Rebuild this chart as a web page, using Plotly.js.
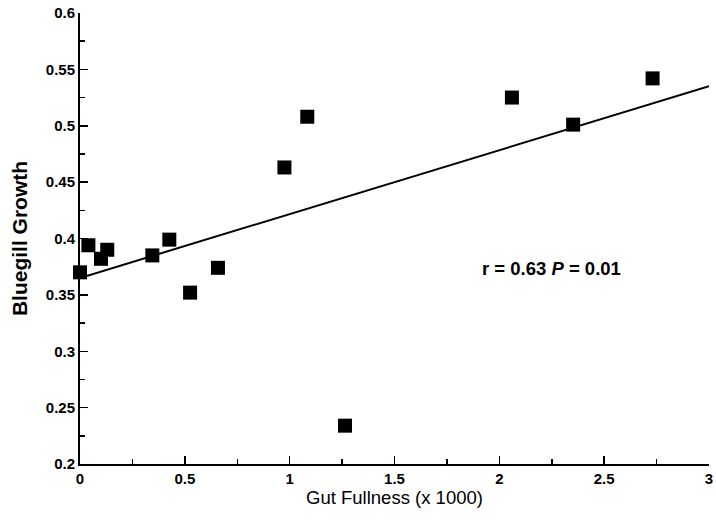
<!DOCTYPE html>
<html>
<head>
<meta charset="utf-8">
<script src="https://cdn.plot.ly/plotly-3.0.1.min.js"></script>
<style>html,body{margin:0;padding:0;background:#fff;}#chart{width:716px;height:523px;}</style>
</head>
<body>
<div id="chart"></div>
<script>
// Data
const gutFullness = [0.00, 0.04, 0.10, 0.13, 0.345, 0.426, 0.525, 0.658, 0.975, 1.084, 1.264, 2.06, 2.352, 2.731];
const bluegillGrowth = [0.370, 0.394, 0.382, 0.390, 0.385, 0.399, 0.352, 0.374, 0.463, 0.508, 0.234, 0.525, 0.501, 0.542];
const fitX = [0, 3];
const fitY = [0.365, 0.535];
const xTicks = [0, 0.5, 1, 1.5, 2, 2.5, 3];
const xTickText = ['0', '0.5', '1', '1.5', '2', '2.5', '3'];
const yTicks = [0.2, 0.25, 0.3, 0.35, 0.4, 0.45, 0.5, 0.55, 0.6];
const yTickText = ['0.2', '0.25', '0.3', '0.35', '0.4', '0.45', '0.5', '0.55', '0.6'];
const statText = 'r = 0.63 <i>P</i> = 0.01';

const FONT = 'Liberation Sans, Arial, Helvetica, sans-serif';

const traces = [
  {
    x: fitX, y: fitY, type: 'scatter', mode: 'lines',
    line: {color: '#000', width: 2}, hoverinfo: 'skip', showlegend: false
  },
  {
    x: gutFullness, y: bluegillGrowth, type: 'scatter', mode: 'markers',
    cliponaxis: false,
    marker: {symbol: 'square', size: 14, color: '#000'}, showlegend: false
  }
];

const layout = {
  width: 716, height: 523,
  margin: {l: 80, r: 7, t: 13, b: 59, pad: 0},
  paper_bgcolor: '#fff', plot_bgcolor: '#fff',
  font: {family: FONT, color: '#000'},
  showlegend: false,
  xaxis: {
    range: [0, 3], autorange: false,
    tickvals: xTicks, ticktext: xTickText,
    ticks: 'inside', ticklen: 8, tickwidth: 1.5, tickcolor: '#000',
    minor: {dtick: 0.25, tick0: 0, ticks: 'inside', ticklen: 5, tickwidth: 1.5, tickcolor: '#000'},
    showline: true, linecolor: '#000', linewidth: 2,
    showgrid: false, zeroline: false, automargin: false,
    ticklabeloverflow: 'allow',
    tickfont: {size: 15, family: FONT, weight: 'bold'},
    title: {text: 'Gut Fullness (x 1000)', font: {size: 18.5, family: FONT}, standoff: 4}
  },
  yaxis: {
    range: [0.2, 0.6], autorange: false,
    tickvals: yTicks, ticktext: yTickText,
    ticks: 'inside', ticklen: 8, tickwidth: 1.5, tickcolor: '#000',
    minor: {dtick: 0.025, tick0: 0.2, ticks: 'inside', ticklen: 5, tickwidth: 1.5, tickcolor: '#000'},
    showline: true, linecolor: '#000', linewidth: 2,
    showgrid: false, zeroline: false, automargin: false,
    ticklabeloverflow: 'allow',
    tickfont: {size: 15, family: FONT, weight: 'bold'},
    title: {text: 'Bluegill Growth', font: {size: 21, family: FONT, weight: 'bold'}, standoff: 12}
  },
  annotations: [{
    x: 2.25, y: 0.373, xref: 'x', yref: 'y', text: statText, showarrow: false,
    font: {size: 18.5, family: FONT, weight: 'bold'}
  }]
};

Plotly.newPlot('chart', traces, layout, {displayModeBar: false, staticPlot: true});
</script>
</body>
</html>
